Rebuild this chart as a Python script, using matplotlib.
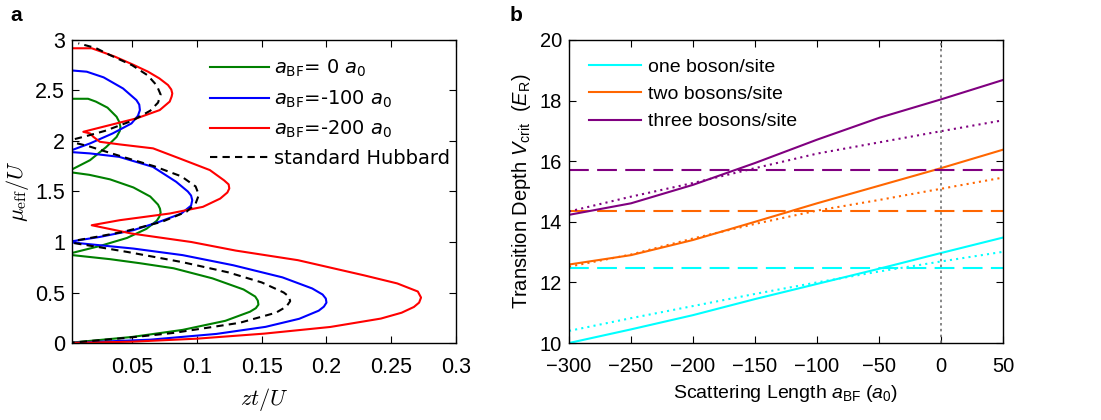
import numpy as np
import matplotlib
matplotlib.use("Agg")
import matplotlib.pyplot as plt
from matplotlib.ticker import FormatStrFormatter

plt.rcParams['font.family'] = ['Liberation Sans', 'DejaVu Sans']
plt.rcParams['mathtext.fontset'] = 'custom'
plt.rcParams['mathtext.rm'] = 'Liberation Sans'
plt.rcParams['mathtext.it'] = 'Liberation Sans:italic'
plt.rcParams['mathtext.bf'] = 'Liberation Sans:bold'

# panel a: Mott lobes, mu_eff/U vs zt/U
mu_g = [0, 0.06, 0.13, 0.22, 0.31, 0.345, 0.38, 0.42, 0.46, 0.53, 0.64, 0.74, 0.79, 0.83, 0.87, 0.88,
        0.96, 1.04, 1.13, 1.21, 1.25, 1.29, 1.33, 1.37, 1.45, 1.54, 1.62, 1.665, 1.695,
        1.81, 1.94, 2.04, 2.1, 2.14, 2.19, 2.24, 2.33, 2.39, 2.418, 2.418]
zt_g = [0, 0.05, 0.089, 0.122, 0.141, 0.1455, 0.1475, 0.147, 0.145, 0.136, 0.112, 0.082, 0.056, 0.033, 0.004, 0,
        0.025, 0.046, 0.061, 0.069, 0.071, 0.072, 0.0715, 0.070, 0.064, 0.051, 0.033, 0.017, 0,
        0.0175, 0.030, 0.038, 0.0405, 0.041, 0.040, 0.038, 0.031, 0.022, 0.016, 0]

mu_b = [0, 0.033, 0.09, 0.16, 0.24, 0.32, 0.36, 0.40, 0.44, 0.48, 0.54, 0.65, 0.77, 0.87, 0.935, 0.968, 1.0,
        1.05, 1.117, 1.2, 1.282, 1.36, 1.414, 1.46, 1.5, 1.596, 1.744, 1.843, 1.877, 1.893,
        1.976, 2.075, 2.174, 2.25, 2.306, 2.36, 2.405, 2.52, 2.63, 2.686, 2.702]
zt_b = [0, 0.064, 0.115, 0.153, 0.179, 0.194, 0.198, 0.200, 0.1995, 0.197, 0.189, 0.166, 0.128, 0.089, 0.051, 0.025, 0,
        0.025, 0.051, 0.071, 0.088, 0.0955, 0.0964, 0.0955, 0.093, 0.084, 0.066, 0.040, 0.0175, 0,
        0.0175, 0.035, 0.0495, 0.0545, 0.056, 0.0555, 0.0533, 0.043, 0.028, 0.015, 0]

mu_r = [0, 0.013, 0.043, 0.093, 0.159, 0.242, 0.30, 0.357, 0.40, 0.45, 0.51, 0.59, 0.67, 0.82, 0.915, 1.0, 1.084, 1.166,
        1.216, 1.282, 1.348, 1.43, 1.49, 1.53, 1.57, 1.61, 1.712, 1.827, 1.927, 1.966, 1.992, 2.042, 2.075, 2.091,
        2.141, 2.224, 2.306, 2.39, 2.44, 2.471, 2.51, 2.554, 2.62, 2.686, 2.76, 2.835, 2.89, 2.918, 2.918]
zt_r = [0, 0.05, 0.1, 0.152, 0.203, 0.242, 0.258, 0.2675, 0.2715, 0.273, 0.2705, 0.2546, 0.229, 0.178, 0.13, 0.0957, 0.0495, 0.0188,
        0.0405, 0.079, 0.1046, 0.118, 0.1235, 0.125, 0.1245, 0.121, 0.11, 0.0867, 0.0662, 0.0405, 0.0251, 0.02, 0.0175, 0.0123,
        0.0277, 0.0534, 0.0713, 0.079, 0.0805, 0.081, 0.0802, 0.0777, 0.071, 0.0623, 0.05, 0.0367, 0.025, 0.0188, 0]

mu_s = [0, 0.05, 0.1, 0.2, 0.3, 0.36, 0.414, 0.46, 0.5, 0.6, 0.7, 0.8, 0.9, 0.95, 1.0,
        1.05, 1.1, 1.2, 1.3, 1.38, 1.45, 1.5, 1.55, 1.65, 1.75, 1.85, 1.95, 2.0,
        2.05, 2.1, 2.2, 2.3, 2.38, 2.46, 2.55, 2.65, 2.75, 2.85, 2.92, 2.967]
zt_s = [0, 0.045, 0.082, 0.133, 0.161, 0.169, 0.172, 0.171, 0.167, 0.150, 0.124, 0.089, 0.047, 0.024, 0,
        0.022, 0.043, 0.073, 0.092, 0.099, 0.101, 0.1005, 0.099, 0.088, 0.067, 0.041, 0.016, 0,
        0.015, 0.029, 0.050, 0.064, 0.070, 0.072, 0.069, 0.062, 0.050, 0.033, 0.022, 0.0085]

lobe_labels = [r'$a_{\rm BF}$= 0 $a_0$', r'$a_{\rm BF}$=-100 $a_0$',
               r'$a_{\rm BF}$=-200 $a_0$', 'standard Hubbard']

# panel b: critical depth vs scattering length
a_bf = [-300, -250, -200, -150, -100, -50, 0, 50]
one_full = [10.0, 10.45, 10.92, 11.45, 11.95, 12.45, 12.97, 13.48]
one_dot = [10.40, 10.82, 11.22, 11.62, 12.0, 12.36, 12.69, 13.01]
one_dash = 12.47
two_full = [12.59, 12.9, 13.4, 14.0, 14.61, 15.19, 15.77, 16.38]
two_dot = [12.52, 12.92, 13.45, 13.93, 14.37, 14.72, 15.09, 15.46]
two_dash = 14.37
three_full = [14.23, 14.61, 15.22, 15.94, 16.71, 17.43, 18.04, 18.68]
three_dot = [14.34, 14.83, 15.28, 15.77, 16.25, 16.62, 16.99, 17.35]
three_dash = 15.70
filling_labels = ['one boson/site', 'two bosons/site', 'three bosons/site']

fig = plt.figure(figsize=(11.01, 4.2), dpi=100)
ax1 = fig.add_axes([0.0654, 0.1833, 0.3488, 0.7215])
ax2 = fig.add_axes([0.5168, 0.1833, 0.3942, 0.7215])

lw = 1.5
ax1.plot(zt_g, mu_g, color='#008000', lw=lw, label=lobe_labels[0])
ax1.plot(zt_b, mu_b, color='#0000FF', lw=lw, label=lobe_labels[1])
ax1.plot(zt_r, mu_r, color='#FF0000', lw=lw, label=lobe_labels[2])
ax1.plot(zt_s, mu_s, color='k', lw=lw, ls=(0, (3.5, 2.5)), label=lobe_labels[3])

ax1.set_xlim(0.0036, 0.3)
ax1.set_ylim(0, 3)
ax1.set_xticks([0.05, 0.1, 0.15, 0.2, 0.25, 0.3])
ax1.set_yticks(np.arange(0, 3.01, 0.5))
ax1.xaxis.set_major_formatter(FormatStrFormatter('%g'))
ax1.yaxis.set_major_formatter(FormatStrFormatter('%g'))
ax1.set_xlabel(r'$zt/U$', fontsize=16, math_fontfamily='cm')
ax1.set_ylabel(r'$\mu_{\rm eff}/U$', fontsize=16, math_fontfamily='cm')
ax1.xaxis.set_label_coords(0.5, -0.143)
ax1.yaxis.set_label_coords(-0.108, 0.5)
leg1 = ax1.legend(loc='upper left', bbox_to_anchor=(0.36, 0.94), frameon=False,
                  handlelength=3.0, handletextpad=0.3,
                  labelspacing=0.46, borderpad=0, borderaxespad=0,
                  prop={'family': 'DejaVu Sans', 'size': 14})
for t in leg1.get_texts():
    t.set_math_fontfamily('dejavusans')

cols = ['#00FFFF', '#FF6600', '#800080']
fulls = [one_full, two_full, three_full]
dots = [one_dot, two_dot, three_dot]
dashes = [one_dash, two_dash, three_dash]
for c, yf, yd, yh, lab in zip(cols, fulls, dots, dashes, filling_labels):
    ax2.plot(a_bf, yf, color=c, lw=lw, label=lab)
    ax2.plot(a_bf, yd, color=c, lw=lw, ls=(0, (1, 2)))
    ax2.axhline(yh, color=c, lw=lw, ls=(0, (9.5, 4)))
ax2.axvline(0, color='0.45', lw=1.2, ls=(0, (1.5, 2)))

ax2.set_xlim(-300, 50)
ax2.set_ylim(10, 20)
ax2.set_xticks(np.arange(-300, 51, 50))
ax2.set_yticks(np.arange(10, 20.1, 2))
ax2.set_xlabel(r'Scattering Length $a_{\rm BF}$ ($a_0$)', fontsize=14)
ax2.set_ylabel(r'Transition Depth $V_{\rm crit}$  ($E_{\rm R}$)', fontsize=14.5)
ax2.xaxis.set_label_coords(0.5, -0.132)
ax2.yaxis.set_label_coords(-0.083, 0.5)
ax2.legend(loc='upper left', bbox_to_anchor=(0.046, 0.94), frameon=False,
           fontsize=14, handlelength=2.7, handletextpad=0.35,
           labelspacing=0.5, borderpad=0, borderaxespad=0)

for ax, ls in ((ax1, 15.5), (ax2, 14.5)):
    ax.tick_params(direction='in', top=True, right=True, length=5, width=0.8,
                   labelsize=ls)
    ax.tick_params(axis='x', pad=10)
    ax.tick_params(axis='y', pad=5)
    for s in ax.spines.values():
        s.set_linewidth(1.0)

fig.text(0.009, 0.985, 'a', fontsize=15, weight='bold', va='top')
fig.text(0.463, 0.985, 'b', fontsize=15, weight='bold', va='top')

fig.savefig('out.png', dpi=100)
